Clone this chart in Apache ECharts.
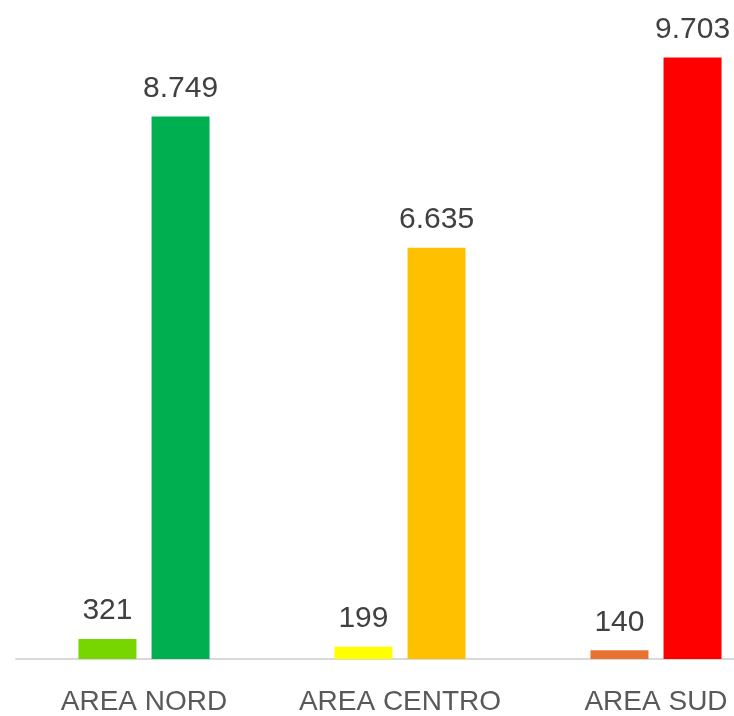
<!DOCTYPE html>
<html><head><meta charset="utf-8">
<script src="https://cdn.jsdelivr.net/npm/echarts@6/dist/echarts.min.js"></script>
<style>html,body{margin:0;padding:0;background:#fff;overflow:hidden;width:734px;height:716px}#c{width:784px;height:716px}</style>
</head><body><div id="c"></div>
<script>
const categories = ['AREA NORD', 'AREA CENTRO', 'AREA SUD'];
const smallValues = [321, 199, 140];
const bigValues = [8749, 6635, 9703];
const smallColors = ['#77D600', '#FFFF00', '#E97132'];
const bigColors = ['#00B050', '#FFC000', '#FF0000'];

function fmt(v) { return String(v).replace(/\B(?=(\d{3})+(?!\d))/g, '.'); }
const labelStyle = {
  show: true, position: 'top', distance: 13,
  fontFamily: 'Liberation Sans', fontSize: 30, color: '#404040',
  formatter: p => fmt(p.value)
};
const chart = echarts.init(document.getElementById('c'));
chart.setOption({
  animation: false,
  grid: { left: 16, right: 0, top: 39, bottom: 54 },
  xAxis: {
    type: 'category', data: categories,
    axisLine: { lineStyle: { color: '#D9D9D9', width: 2 } },
    axisTick: { show: false },
    axisLabel: { color: '#595959', fontFamily: 'Liberation Sans', fontSize: 28, margin: 29, interval: 0, hideOverlap: false }
  },
  yAxis: { type: 'value', min: 0, max: 10000, show: false, splitLine: { show: false } },
  series: [
    { type: 'bar', barWidth: 58, barGap: '26%',
      data: smallValues.map((v, i) => ({ value: v, itemStyle: { color: smallColors[i] } })),
      label: labelStyle },
    { type: 'bar', barWidth: 58, barGap: '26%',
      data: bigValues.map((v, i) => ({ value: v, itemStyle: { color: bigColors[i] } })),
      label: labelStyle }
  ]
});
</script></body></html>
